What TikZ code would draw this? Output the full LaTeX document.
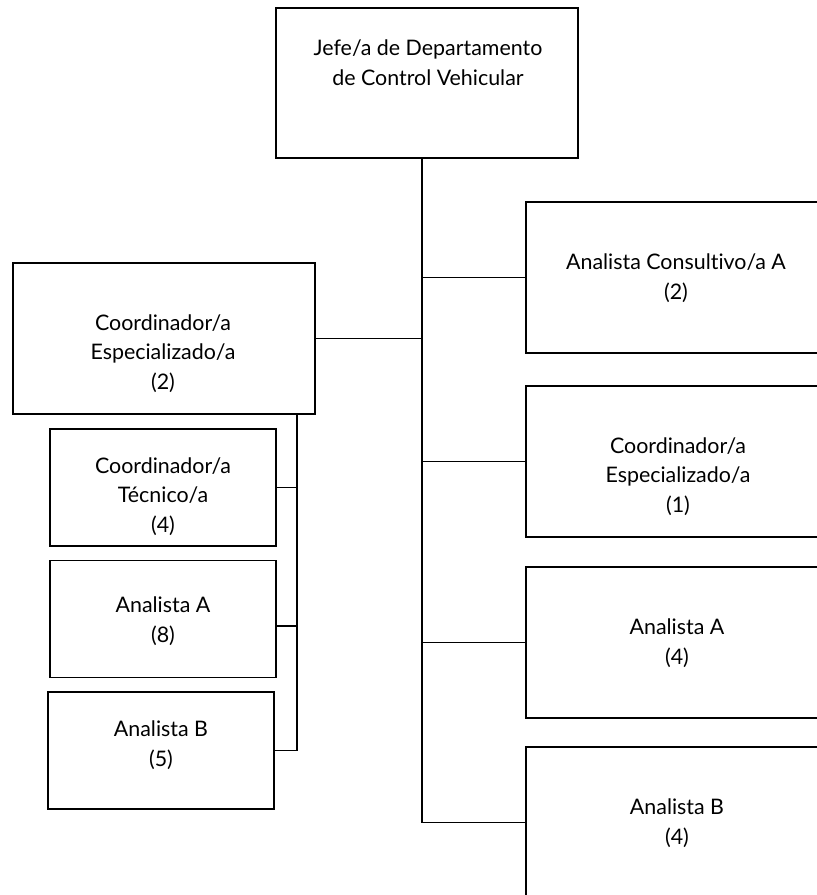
\documentclass[tikz,border=0pt]{standalone}
\usepackage{fontspec}
\setmainfont{Lato}[Ligatures=NoCommon]
\usepackage{tikz}

\begin{document}
\begin{tikzpicture}[x=0.5pt, y=-0.5pt,
    box/.style={draw, line width=0.6pt, minimum width=151pt, minimum height=75.5pt, inner sep=0pt},
    smallbox/.style={draw, line width=0.6pt, minimum width=113pt, minimum height=58.5pt, inner sep=0pt},
    lbl/.style={align=center, font=\fontsize{10.7}{14.75}\selectfont, inner sep=0pt},
    link/.style={line width=0.6pt}]
    \clip (0,0) rectangle (817,895);

    % boxes
    \node[box, minimum height=75pt] (jefe) at (427, 83) {};
    \node[box] (coordesp) at (164, 338.5) {};
    \node[smallbox] (tecnico) at (163, 487.5) {};
    \node[smallbox] (analA8) at (163, 619) {};
    \node[smallbox] (analB5) at (161, 750.5) {};
    \node[box] (consultivo) at (677, 277.5) {};
    \node[box] (coordesp1) at (677, 461.5) {};
    \node[box] (analA4) at (677, 642.5) {};
    \node[box] (analB4) at (677, 822.5) {};

    % texts
    \node[lbl] (jefe-t) at (428, 62.5) {Jefe/a de Departamento\\de Control Vehicular};
    \node[lbl] (coordesp-t) at (163, 353.5) {Coordinador/a\\Especializado/a\\(2)};
    \node[lbl] (tecnico-t) at (163, 496.5) {Coordinador/a\\Técnico/a\\(4)};
    \node[lbl] (analA8-t) at (163, 621) {Analista A\\(8)};
    \node[lbl] (analB5-t) at (161, 745) {Analista B\\(5)};
    \node[lbl] (consultivo-t) at (676, 278) {Analista Consultivo/a A\\(2)};
    \node[lbl] (coordesp1-t) at (678, 476.5) {Coordinador/a\\Especializado/a\\(1)};
    \node[lbl] (analA4-t) at (677, 643) {Analista A\\(4)};
    \node[lbl] (analB4-t) at (677, 823) {Analista B\\(4)};

    % main trunk
    \coordinate (trunk) at (422, 158);
    \draw[link] (trunk) |- (analB4.west);
    \foreach \n in {consultivo, coordesp1, analA4} {
        \draw[link] (trunk |- \n.west) -- (\n.west);
    }
    \draw[link] (trunk |- coordesp.east) -- (coordesp.east);

    % left branch
    \coordinate (subtrunk) at (297, 414);
    \coordinate (a8tie) at ([yshift=-3.5pt]analA8.east);
    \draw[link] (subtrunk) |- (analB5.east);
    \draw[link] (subtrunk |- tecnico.east) -- (tecnico.east);
    \draw[link] (subtrunk |- a8tie) -- (a8tie);

\end{tikzpicture}
\end{document}
